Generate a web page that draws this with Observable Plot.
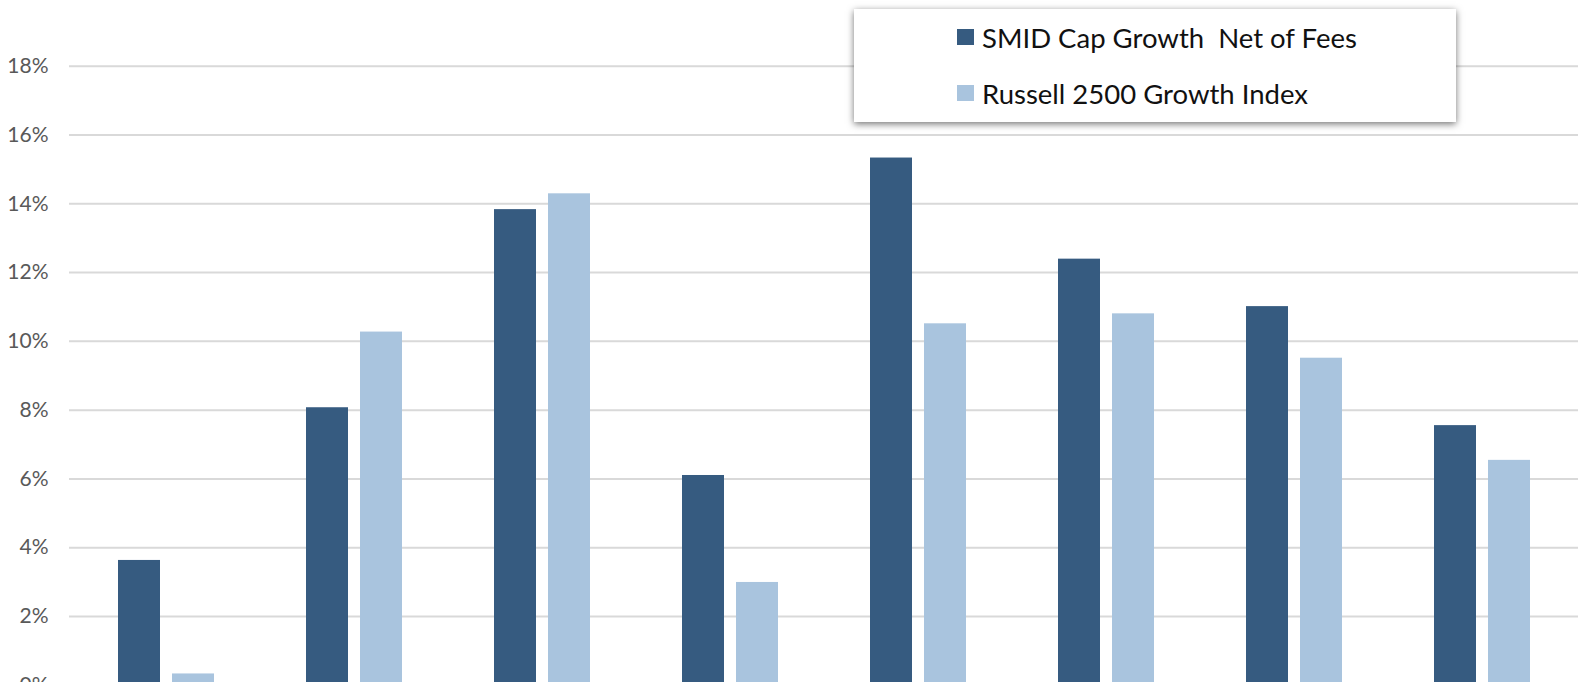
<!DOCTYPE html>
<html>
<head>
<meta charset="utf-8">
<script src="https://cdn.jsdelivr.net/npm/d3@7"></script>
<script src="https://cdn.jsdelivr.net/npm/@observablehq/plot@0.6"></script>
<style>
  html, body { margin: 0; padding: 0; background: #fff; overflow: hidden; }
  #wrap { position: relative; width: 1585px; height: 682px; }
  #legend {
    position: absolute; left: 854px; top: 9px; width: 602px; height: 113px;
    background: #fff; box-shadow: 0 2px 7px rgba(0,0,0,0.55);
    font-family: Lato, "Open Sans", sans-serif; font-size: 27.5px; color: #111;
  }
  .row { position: absolute; left: 103px; display: flex; align-items: center; height: 30px; }
  .sw { width: 17px; height: 16px; margin-right: 8px; }
</style>
</head>
<body>
<div id="wrap">
  <div id="chart"></div>
  <div id="legend"></div>
</div>
<script>
// Data
const categories = ["QTD", "YTD", "1 Year", "3 Years", "5 Years", "7 Years", "10 Years", "Since Inception"];
const smidNet = [3.63, 8.07, 13.83, 6.10, 15.33, 12.39, 11.01, 7.55];
const russell = [0.33, 10.27, 14.29, 2.99, 10.51, 10.80, 9.51, 6.54];
const seriesNames = ["SMID Cap Growth  Net of Fees", "Russell 2500 Growth Index"];
const seriesColors = ["#365b80", "#a9c4de"];
const yTicks = [0, 2, 4, 6, 8, 10, 12, 14, 16, 18];

const rowsA = categories.map((c, i) => ({cat: c, value: smidNet[i]}));
const rowsB = categories.map((c, i) => ({cat: c, value: russell[i]}));

const bandW = 96.4, barW = 42.4;

const chart = Plot.plot({
  width: 1585,
  height: 682,
  marginLeft: 69,
  marginRight: 7,
  marginTop: 65.7,
  marginBottom: 0,
  style: {fontFamily: "Lato, 'Open Sans', sans-serif", fontSize: "21px", color: "#595959", background: "#fff"},
  x: {type: "band", domain: categories, range: [115.3, 1532], paddingInner: 0.489, paddingOuter: 0, axis: null},
  y: {domain: [0, 18], range: [684.8, 65.7], axis: null},
  marks: [
    Plot.ruleY(yTicks, {stroke: "#d9d9d9", strokeWidth: 2}),
    Plot.axisY(yTicks, {anchor: "left", label: null, tickSize: 0, tickPadding: 21, tickFormat: d => d + "%", fill: "#595959", fontSize: 21}),
    Plot.barY(rowsA, {x: "cat", y: "value", fill: seriesColors[0], insetRight: bandW - barW}),
    Plot.barY(rowsB, {x: "cat", y: "value", fill: seriesColors[1], insetLeft: bandW - barW})
  ]
});
document.getElementById("chart").appendChild(chart);

const legend = document.getElementById("legend");
const rowTops = [13, 69];
seriesNames.forEach((name, i) => {
  const row = document.createElement("div");
  row.className = "row";
  row.style.top = rowTops[i] + "px";
  const sw = document.createElement("div");
  sw.className = "sw";
  sw.style.background = seriesColors[i];
  const label = document.createElement("span");
  label.textContent = name;
  label.style.whiteSpace = "pre";
  row.appendChild(sw);
  row.appendChild(label);
  legend.appendChild(row);
});
</script>
</body>
</html>
